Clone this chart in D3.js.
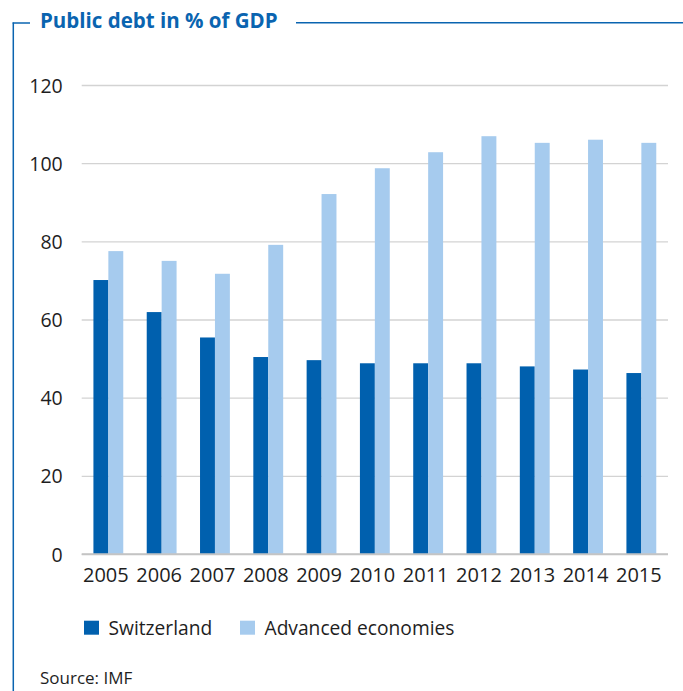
<!DOCTYPE html>
<html>
<head>
<meta charset="utf-8">
<script src="https://cdn.jsdelivr.net/npm/d3@7"></script>
<style>
  html, body { margin: 0; padding: 0; background: #fff; }
  svg { display: block; font-family: "Open Sans", sans-serif; }
</style>
</head>
<body>
<svg id="chart" width="683" height="691"></svg>
<script>
// Public debt as a share of GDP, 2005–2015
const years = ["2005","2006","2007","2008","2009","2010","2011","2012","2013","2014","2015"];
const seriesNames = ["Switzerland", "Advanced economies"];
const switzerland = [70.1, 61.9, 55.4, 50.4, 49.6, 48.8, 48.8, 48.8, 48.0, 47.2, 46.3];
const advanced = [77.5, 75.0, 71.7, 79.1, 92.1, 98.7, 102.8, 106.9, 105.2, 106.0, 105.2];
const yTicks = [0, 20, 40, 60, 80, 100, 120];
const titleText = "Public debt in % of GDP";
const sourceText = "Source: IMF";

const colors = ["#0060ae", "#a6cbee"];
const blue = "#0a64b0";
const ink = "#1e1e1e";

const svg = d3.select("#chart");

const plotLeft = 81.7, plotRight = 668, plotTop = 85, plotBottom = 554;

const x = d3.scaleBand().domain(years).range([plotLeft, plotRight]).paddingInner(0.44).paddingOuter(0.22);
const xs = d3.scaleBand().domain(seriesNames).range([0, x.bandwidth()]);
const y = d3.scaleLinear().domain([0, 120]).range([plotBottom, plotTop]);

// frame: left rule and header rules around the title
svg.append("line").attr("x1", 13.3).attr("x2", 13.3).attr("y1", 22.5).attr("y2", 691)
  .attr("stroke", blue).attr("stroke-width", 1.5);
svg.append("line").attr("x1", 12.6).attr("x2", 30).attr("y1", 23).attr("y2", 23)
  .attr("stroke", blue).attr("stroke-width", 1.5);
svg.append("line").attr("x1", 296).attr("x2", 683).attr("y1", 22.8).attr("y2", 22.8)
  .attr("stroke", blue).attr("stroke-width", 1.6);

svg.append("text").attr("x", 40).attr("y", 28)
  .attr("font-size", 20.5).attr("font-weight", 700).attr("fill", blue)
  .text(titleText);

// gridlines and value labels
const yAxis = d3.axisLeft(y).tickValues(yTicks).tickSize(-(plotRight - plotLeft)).tickPadding(19);
const gy = svg.append("g").attr("transform", `translate(${plotLeft},0)`).call(yAxis);
gy.select(".domain").remove();
gy.selectAll(".tick line").attr("stroke", d => d === 0 ? "#c4c4c4" : "#d3d3d3").attr("stroke-width", d => d === 0 ? 1.6 : 1.3);
gy.selectAll(".tick text").attr("font-size", 19.5).attr("fill", ink).attr("font-family", "Open Sans, sans-serif").attr("dy", "0.36em");

// bars
const rows = years.map((yr, i) => ({ year: yr, values: [switzerland[i], advanced[i]] }));
const groups = svg.append("g").selectAll("g").data(rows).join("g")
  .attr("transform", d => `translate(${x(d.year)},0)`);
groups.selectAll("rect").data(d => d.values.map((v, j) => ({ name: seriesNames[j], value: v, j })))
  .join("rect")
  .attr("x", d => xs(d.name))
  .attr("width", xs.bandwidth())
  .attr("y", d => y(d.value))
  .attr("height", d => y(0) - y(d.value))
  .attr("fill", d => colors[d.j]);

// redraw zero line above bars
svg.append("line").attr("x1", plotLeft).attr("x2", plotRight).attr("y1", y(0)).attr("y2", y(0))
  .attr("stroke", "#c4c4c4").attr("stroke-width", 1.6);

// category axis labels
const xAxis = d3.axisBottom(x).tickSize(0).tickPadding(14);
const gx = svg.append("g").attr("transform", `translate(0,${plotBottom})`).call(xAxis);
gx.select(".domain").remove();
gx.selectAll(".tick text").attr("font-size", 20).attr("fill", ink).attr("font-family", "Open Sans, sans-serif")
  .attr("dx", -2.5);

// legend
const legendX = [84, 240];
const leg = svg.append("g").selectAll("g").data(seriesNames).join("g")
  .attr("transform", (d, i) => `translate(${legendX[i]},620.7)`);
leg.append("rect").attr("width", 15).attr("height", 14).attr("fill", (d, i) => colors[i]);
leg.append("text").attr("x", 24.5).attr("y", 14).attr("font-size", 19.2).attr("fill", ink).text(d => d);

// source note
svg.append("text").attr("x", 40).attr("y", 684).attr("font-size", 17).attr("fill", ink).text(sourceText);
</script>
</body>
</html>
